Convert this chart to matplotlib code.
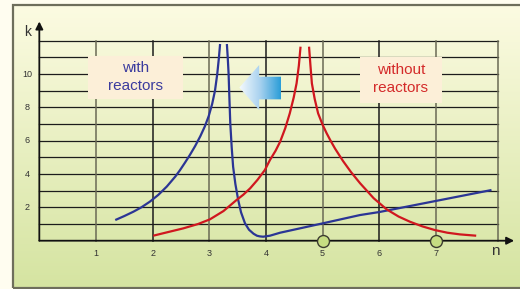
import numpy as np
import matplotlib
matplotlib.use("Agg")
import matplotlib.pyplot as plt
from matplotlib.patches import Polygon, Rectangle
from matplotlib.colors import LinearSegmentedColormap

plt.rcParams["font.family"] = ["Liberation Sans", "DejaVu Sans"]

# curve points (n, k)
blue_left_n = [1.34, 1.50, 1.66, 1.80, 1.95, 2.10, 2.25, 2.40, 2.48, 2.57, 2.66, 2.75,
               2.84, 2.92, 2.99, 3.05, 3.10, 3.14, 3.17, 3.19]
blue_left_k = [1.24, 1.48, 1.74, 2.00, 2.34, 2.75, 3.25, 3.85, 4.22, 4.68, 5.16, 5.68,
               6.26, 6.85, 7.48, 8.20, 9.00, 10.0, 11.0, 11.8]
blue_right_n = [3.31, 3.325, 3.34, 3.355, 3.37, 3.395, 3.42, 3.46, 3.51, 3.56, 3.63, 3.70,
                3.78, 3.84, 3.89, 3.95, 4.07, 4.25, 5.0, 5.66, 6.0, 7.98]
blue_right_k = [11.8, 11.0, 10.04, 8.5, 7.04, 5.6, 4.44, 3.4, 2.44, 1.7, 1.04, 0.66,
                0.42, 0.30, 0.26, 0.24, 0.30, 0.48, 1.04, 1.54, 1.72, 3.04]
red_left_n = [2.01, 2.25, 2.54, 2.80, 3.01, 3.25, 3.48, 3.60, 3.72, 3.85, 3.98, 4.07,
              4.17, 4.25, 4.34, 4.42, 4.49, 4.54, 4.58, 4.61]
red_left_k = [0.30, 0.50, 0.74, 1.00, 1.28, 1.78, 2.44, 2.76, 3.14, 3.65, 4.24, 4.84,
              5.40, 5.94, 6.75, 7.64, 8.60, 9.44, 10.5, 11.64]
red_right_n = [4.76, 4.785, 4.81, 4.86, 4.92, 5.00, 5.07, 5.14, 5.22, 5.36, 5.50, 5.66,
               5.90, 6.13, 6.34, 6.54, 6.76, 6.98, 7.20, 7.42, 7.71]
red_right_k = [11.64, 10.5, 9.44, 8.5, 7.64, 6.95, 6.45, 6.0, 5.52, 4.78, 4.12, 3.45,
               2.55, 1.88, 1.45, 1.14, 0.86, 0.64, 0.48, 0.38, 0.30]

x_ticks = [1, 2, 3, 4, 5, 6, 7]
y_ticks = [2, 4, 6, 8, 10]
marked_n = [5, 7]

blue = "#2b3595"
red = "#d0171f"

fig = plt.figure(figsize=(5.2, 2.89), dpi=100)
fig.patch.set_facecolor("#fffdf0")
ax = fig.add_axes([0, 0, 1, 1])
ax.set_xlim(-0.694, 8.483)
ax.set_ylim(-2.897, 14.44)
ax.axis("off")

# panel with vertical gradient
x0, x1 = -0.46, 8.6
y0, y1 = -2.82, 14.14
grad = np.linspace(0, 1, 256).reshape(-1, 1)
panel_cmap = LinearSegmentedColormap.from_list("panel", ["#d5e4a1", "#fcfbe2"])
ax.imshow(grad, extent=[x0, x1, y0, y1], origin="lower", cmap=panel_cmap,
          aspect="auto", zorder=0)
ax.add_patch(Rectangle((x0, y0), x1 - x0, y1 - y0, fill=False,
                       edgecolor="#6e6e5c", lw=1.6, zorder=1))

# grid
x_right = 8.1
for k in range(1, 13):
    ax.plot([0, x_right], [k, k], color="#1c1c1c", lw=0.9, zorder=2)
for n in list(range(1, 8)) + [x_right]:
    c = "#1c1c1c" if n in (2, 4, 6) else "#6a6a55"
    ax.plot([n, n], [0, 12], color=c, lw=1.1, zorder=2)

# axes with arrows
ax.annotate("", xy=(8.38, 0), xytext=(0, 0),
            arrowprops=dict(arrowstyle="-|>", lw=1.3, color="#111111",
                            mutation_scale=11, shrinkA=0, shrinkB=0), zorder=3)
ax.annotate("", xy=(0, 13.15), xytext=(0, 0),
            arrowprops=dict(arrowstyle="-|>", lw=1.3, color="#111111",
                            mutation_scale=11, shrinkA=0, shrinkB=0), zorder=3)

for n in x_ticks:
    ax.text(n, -0.75, str(n), ha="center", va="center", fontsize=6.5, color="#333333")
for k in y_ticks:
    ax.text(-0.21, k, str(k), ha="center", va="center", fontsize=6.5, color="#333333")
ax.text(-0.2, 12.5, "k", ha="center", va="center", fontsize=10, color="#333333")
ax.text(8.04, -0.62, "n", ha="center", va="center", fontsize=11, color="#333333")

# curves
for xs, ys, c in [(blue_left_n, blue_left_k, blue), (blue_right_n, blue_right_k, blue),
                  (red_left_n, red_left_k, red), (red_right_n, red_right_k, red)]:
    ax.plot(xs, ys, color=c, lw=1.6, zorder=4, solid_capstyle="butt",
            solid_joinstyle="round")

ax.plot(marked_n, [0] * len(marked_n), "o", ms=8.6, mfc="#c6dd82", mec="#3c3c30",
        mew=1.0, zorder=5, clip_on=False)

# label boxes
ax.add_patch(Rectangle((0.86, 8.5), 1.68, 2.58, facecolor="#fcefd8", edgecolor="none", zorder=3))
ax.text(1.70, 9.8, "with\nreactors", ha="center", va="center", fontsize=11,
        color="#3b3b9e", linespacing=1.35, zorder=6)
ax.add_patch(Rectangle((5.66, 8.28), 1.44, 2.76, facecolor="#fcefd8", edgecolor="none", zorder=3))
ax.text(6.38, 9.7, "without\nreactors", ha="center", va="center", fontsize=11,
        color="#d42a2a", linespacing=1.35, zorder=6)

# gradient arrow pointing left
arrow_pts = [(3.53, 9.19), (3.88, 10.54), (3.88, 9.84), (4.27, 9.84),
             (4.27, 8.48), (3.88, 8.48), (3.88, 7.84)]
arrow = Polygon(arrow_pts, closed=True, facecolor="none", edgecolor="none", zorder=6)
ax.add_patch(arrow)
arrow_cmap = LinearSegmentedColormap.from_list("arr", ["#f6fafd", "#a9d2ef", "#2a9dd8"])
hgrad = np.linspace(0, 1, 256).reshape(1, -1)
im = ax.imshow(hgrad, extent=[3.53, 4.27, 7.84, 10.54], origin="lower",
               cmap=arrow_cmap, aspect="auto", zorder=6)
im.set_clip_path(arrow)

fig.savefig("out.png", dpi=100, facecolor=fig.get_facecolor())
